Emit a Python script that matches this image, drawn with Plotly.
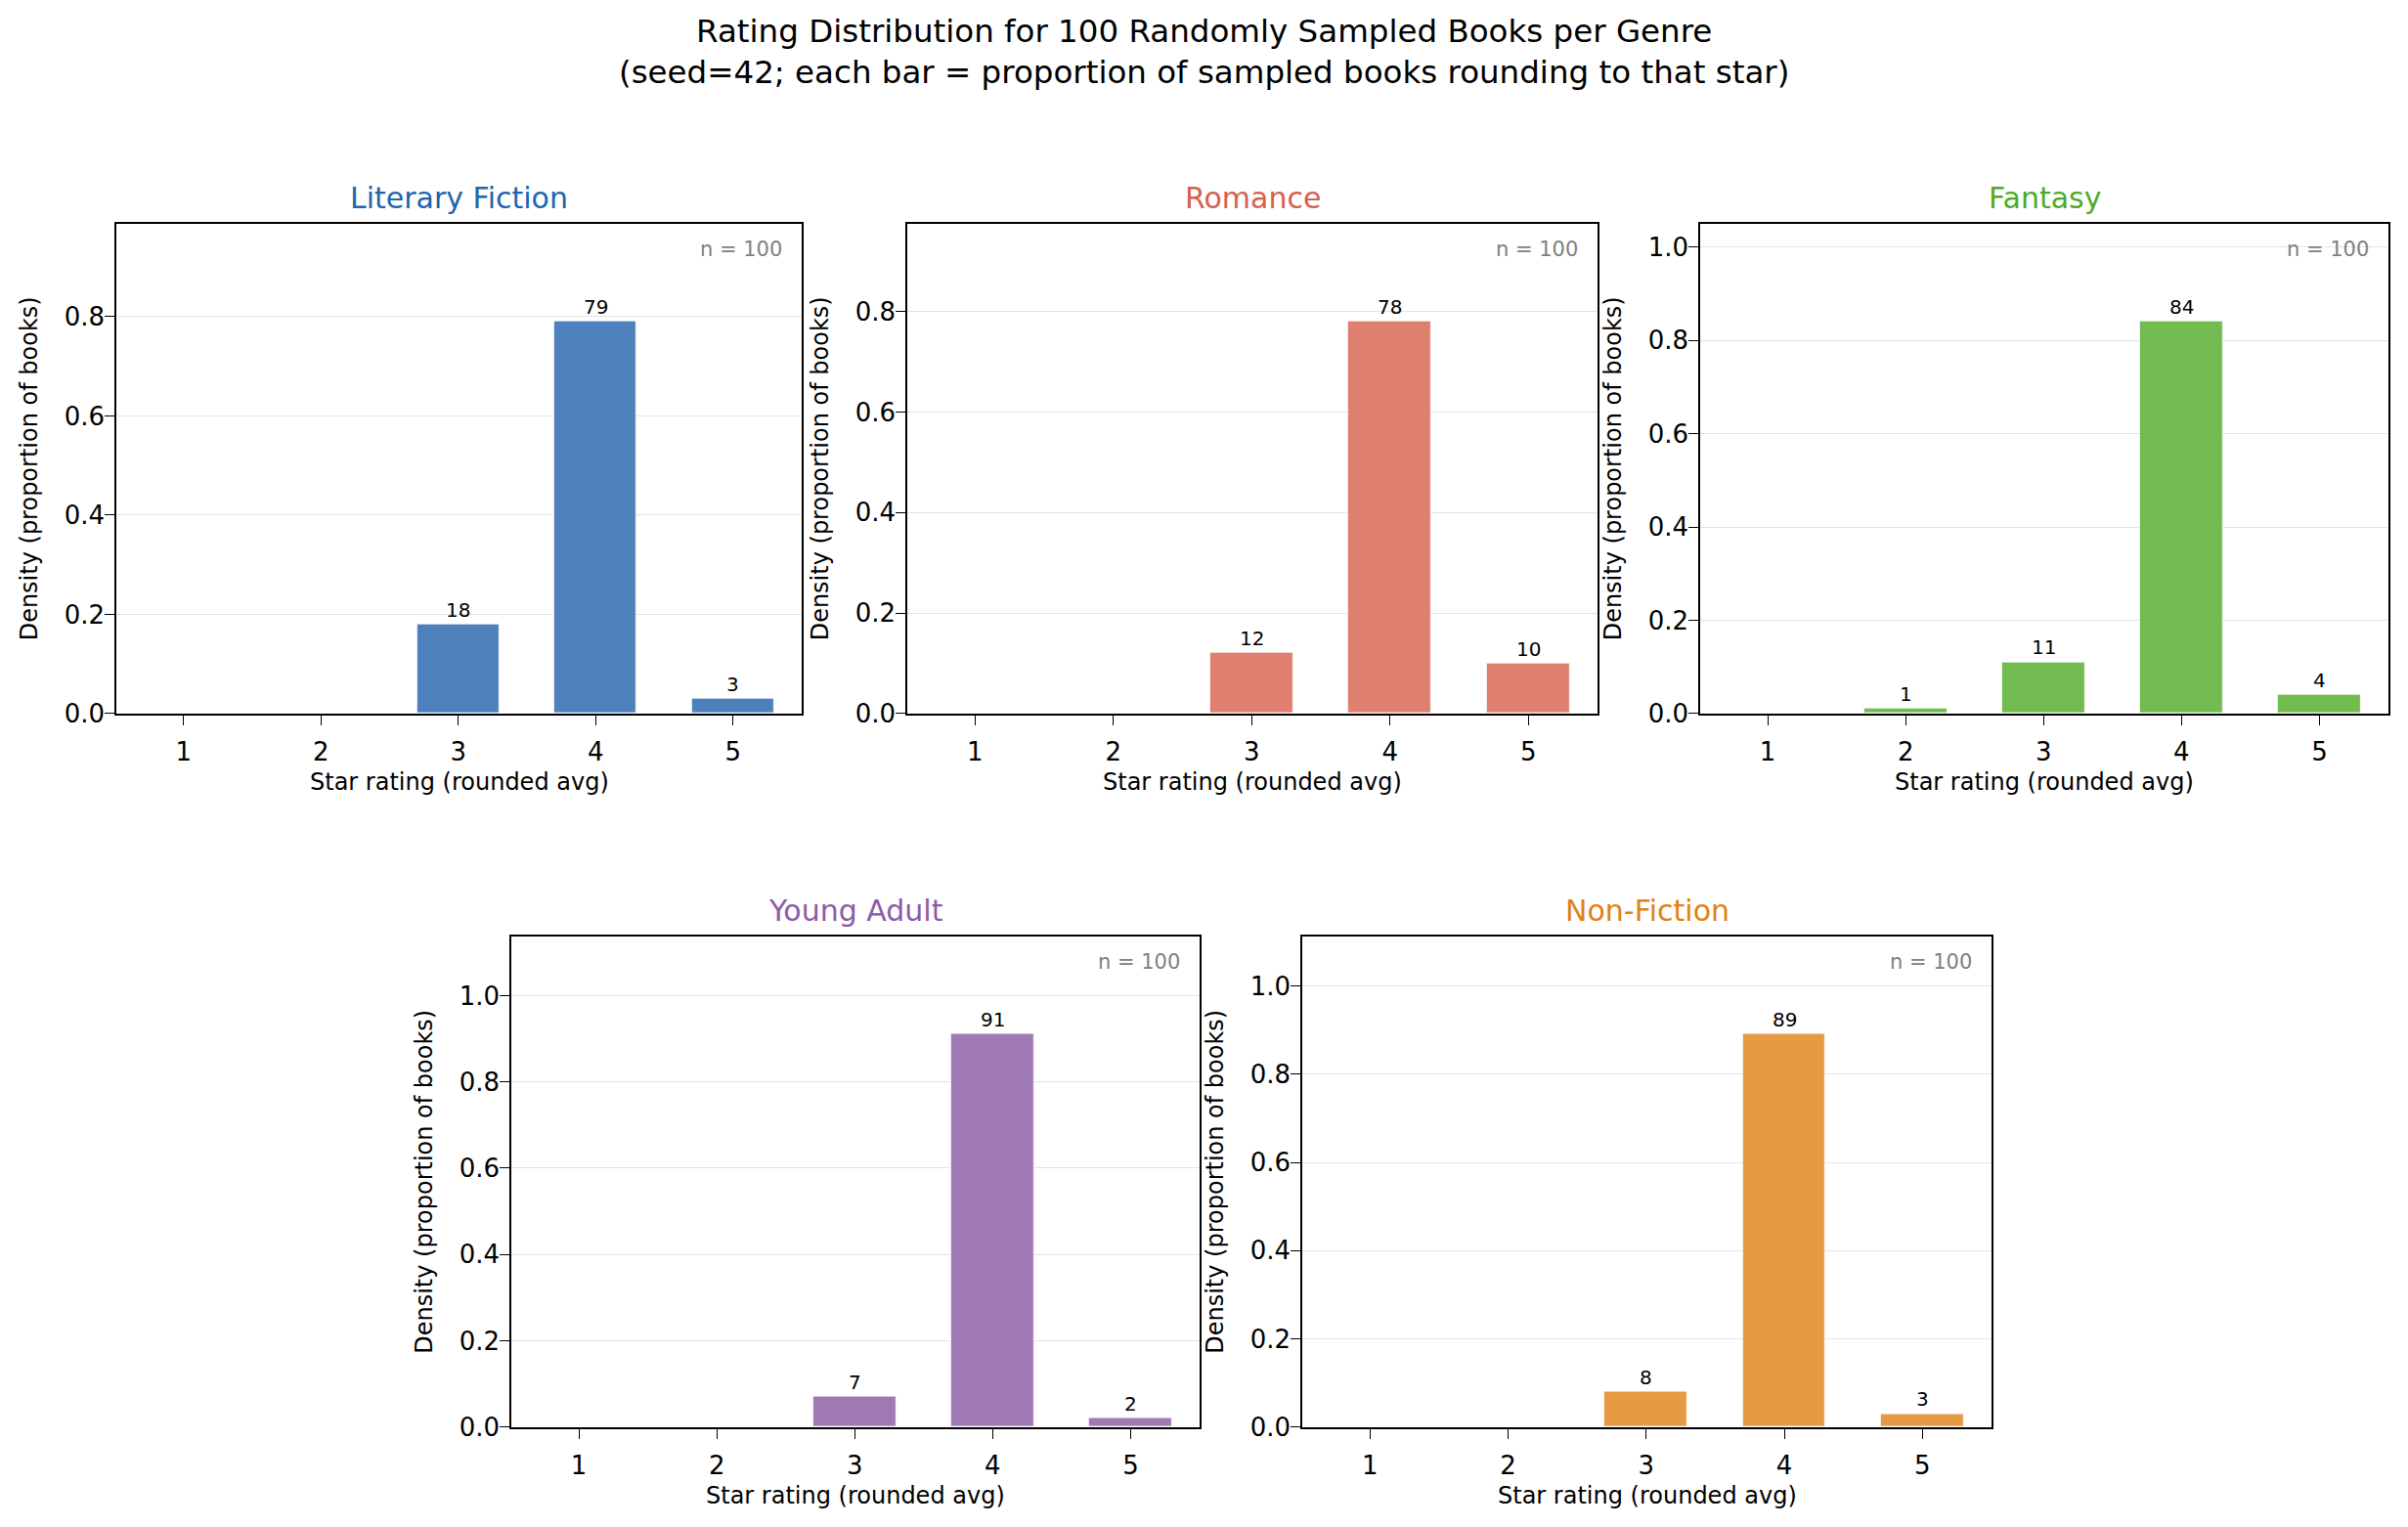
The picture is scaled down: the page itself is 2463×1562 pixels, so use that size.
import plotly.graph_objects as go

# ---------------- data ----------------
genres = ["Literary Fiction", "Romance", "Fantasy", "Young Adult", "Non-Fiction"]
stars = [1, 2, 3, 4, 5]
star_tick_labels = ["1", "2", "3", "4", "5"]
counts_literary = [0, 0, 18, 79, 3]
counts_romance = [0, 0, 12, 78, 10]
counts_fantasy = [0, 1, 11, 84, 4]
counts_young_adult = [0, 0, 7, 91, 2]
counts_nonfiction = [0, 0, 8, 89, 3]
sample_sizes = [100, 100, 100, 100, 100]
title_colors = ["#2166ac", "#d6604d", "#4dac26", "#8c5ca8", "#e08214"]
bar_colors = ["#4e81bb", "#de7f70", "#72bb50", "#a07ab5", "#e69b43"]

all_counts = [counts_literary, counts_romance, counts_fantasy, counts_young_adult, counts_nonfiction]

W, H = 2463, 1562
# panel pixel boxes (left, right, top, bottom)
boxes = [(119, 820, 231, 737), (928, 1634, 231, 737), (1739, 2443, 231, 737),
         (523, 1227, 967, 1474), (1332, 2037, 967, 1474)]

FONT = "DejaVu Sans"
fig = go.Figure()
annotations = []
layout_axes = {}

for i, (g, counts, n, tc, bc, box) in enumerate(zip(genres, all_counts, sample_sizes,
                                                     title_colors, bar_colors, boxes)):
    k = "" if i == 0 else str(i + 1)
    dens = [c / n for c in counts]
    fig.add_trace(go.Bar(x=stars, y=dens, width=0.6,
                         marker=dict(color=bc, line=dict(color="rgba(255,255,255,0.7)", width=1.2)),
                         xaxis="x" + k, yaxis="y" + k, showlegend=False, hoverinfo="skip"))
    l, r, t, b = box
    ymax = max(dens) * 1.25
    layout_axes["xaxis" + k] = dict(
        domain=[l / W, r / W], anchor="y" + k, range=[0.51, 5.5],
        tickmode="array", tickvals=stars, ticktext=star_tick_labels,
        showgrid=False, zeroline=False, showline=True, mirror=True,
        linecolor="black", linewidth=1.6, ticks="outside", ticklen=10, tickwidth=1.4,
        tickcolor="black", tickfont=dict(family=FONT, size=26, color="black"),
        ticklabelstandoff=5,
    )
    layout_axes["yaxis" + k] = dict(
        domain=[1 - b / H, 1 - t / H], anchor="x" + k, range=[0, ymax],
        tick0=0, dtick=0.2, tickformat=".1f",
        showgrid=True, gridcolor="#e3e3e3", gridwidth=1, zeroline=False,
        showline=True, mirror=True, linecolor="black", linewidth=1.6,
        ticks="outside", ticklen=10, tickwidth=1.4, tickcolor="black",
        tickfont=dict(family=FONT, size=26, color="black"),
        ticklabelstandoff=-5,
    )
    xd, yd = "x" + k + " domain", "y" + k + " domain"
    # subplot title
    annotations.append(dict(text=g, xref=xd, yref=yd, x=0.5, y=1, yanchor="bottom",
                            yshift=7, showarrow=False,
                            font=dict(family=FONT, size=30, color=tc)))
    # n = label
    annotations.append(dict(text=f"n = {n}", xref=xd, yref=yd, x=0.975, y=0.975,
                            xanchor="right", yanchor="top", showarrow=False,
                            font=dict(family=FONT, size=21, color="#808080")))
    # axis labels
    annotations.append(dict(text="Star rating (rounded avg)", xref=xd, yref=yd, x=0.5, y=0,
                            yanchor="middle", yshift=-70, showarrow=False,
                            font=dict(family=FONT, size=24, color="black")))
    annotations.append(dict(text="Density (proportion of books)", xref=xd, yref=yd, x=0, y=0.5,
                            xanchor="center", xshift=-89, textangle=-90, showarrow=False,
                            font=dict(family=FONT, size=24, color="black")))
    # bar count labels
    for s, c, d in zip(stars, counts, dens):
        if c > 0:
            annotations.append(dict(text=str(c), x=s, y=d, xref="x" + k, yref="y" + k,
                                    yanchor="bottom", yshift=1, showarrow=False,
                                    font=dict(family=FONT, size=20, color="black")))

annotations.append(dict(
    text="Rating Distribution for 100 Randomly Sampled Books per Genre<br>"
         "(seed=42; each bar = proportion of sampled books rounding to that star)",
    xref="paper", yref="paper", x=0.5, y=1 - 54 / H, xanchor="center", yanchor="middle",
    showarrow=False, font=dict(family=FONT, size=32.5, color="black")))

fig.update_layout(
    width=W, height=H, margin=dict(l=0, r=0, t=0, b=0),
    paper_bgcolor="white", plot_bgcolor="white",
    annotations=annotations, bargap=0, **layout_axes,
)

fig.write_html("out.html")
